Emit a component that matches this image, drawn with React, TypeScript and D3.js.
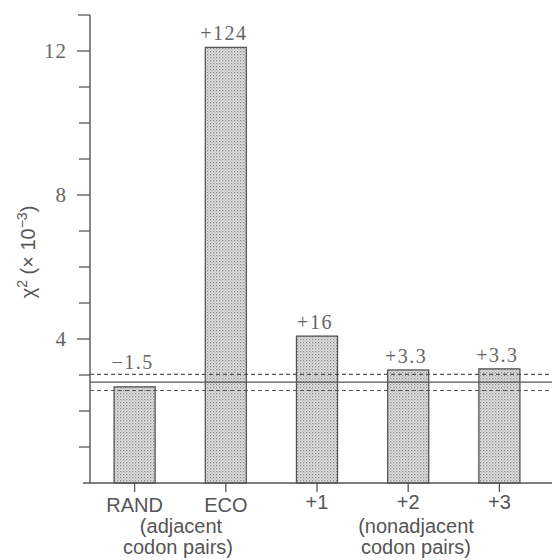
import React from 'react'
import * as d3 from 'd3'

const categories = ['RAND', 'ECO', '+1', '+2', '+3']
const values = [2.67, 12.1, 4.08, 3.14, 3.17]
const barLabels = ['\u22121.5', '+124', '+16', '+3.3', '+3.3']
const majorTicks = [4, 8, 12]
const minorTicks = [1, 2, 3, 5, 6, 7, 9, 10, 11]
const refMean = 2.8
const refBand = [2.57, 3.02]

const W = 552
const H = 560
const ink = '#555'
const serif = '"Liberation Serif", "DejaVu Serif", serif'
const sans = '"Liberation Sans", Arial, sans-serif'

export default function App() {
  const x = d3.scaleBand().domain(categories).range([89, 545]).paddingInner(0.55).paddingOuter(0.275)
  const y = d3.scaleLinear().domain([0, 13]).range([483, 15])
  const x0 = 90
  const xEnd = W

  return (
    <svg width={W} height={H} style={{ position: 'absolute', left: 0, top: 0, background: '#fff' }}>
      <defs>
        <pattern id="dots" width="3" height="3" patternUnits="userSpaceOnUse">
          <rect width="3" height="3" fill="#e2e2e2" />
          <rect x="0" y="0" width="1.3" height="1.3" fill="#8a8a8a" />
          <rect x="1.5" y="1.5" width="1.2" height="1.2" fill="#aaa" />
        </pattern>
      </defs>

      {/* bars */}
      {categories.map((c, i) => (
        <rect key={c} x={x(c)} y={y(values[i])} width={x.bandwidth()} height={y(0) - y(values[i])}
          fill="url(#dots)" stroke={ink} strokeWidth={1.3} />
      ))}

      {/* reference lines */}
      <line x1={x0} x2={xEnd} y1={y(refMean)} y2={y(refMean)} stroke={ink} strokeWidth={1.3} />
      {refBand.map(v => (
        <line key={v} x1={x0} x2={xEnd} y1={y(v)} y2={y(v)} stroke={ink} strokeWidth={1.2} strokeDasharray="4,3" />
      ))}

      {/* y axis */}
      <line x1={x0} x2={x0} y1={y(13)} y2={y(0)} stroke={ink} strokeWidth={1.4} />
      <line x1={78} x2={x0} y1={y(13)} y2={y(13)} stroke={ink} strokeWidth={1.3} />
      {majorTicks.map(t => (
        <g key={t}>
          <line x1={77} x2={x0} y1={y(t)} y2={y(t)} stroke={ink} strokeWidth={1.3} />
          <text x={67} y={y(t) + 7} textAnchor="end" fontFamily={serif} fontSize={21} letterSpacing={1} fill="#666">{t}</text>
        </g>
      ))}
      {minorTicks.map(t => (
        <line key={t} x1={79} x2={x0} y1={y(t)} y2={y(t)} stroke={ink} strokeWidth={1.3} />
      ))}

      {/* baseline */}
      <line x1={83} x2={xEnd} y1={y(0)} y2={y(0)} stroke={ink} strokeWidth={1.4} />

      {/* x ticks and labels */}
      {categories.map((c, i) => {
        const cx = (x(c) as number) + x.bandwidth() / 2
        const ly = Math.min(y(values[i]) - 7, y(refBand[1]) - 5)
        return (
          <g key={c}>
            <line x1={cx} x2={cx} y1={y(0)} y2={y(0) + 9} stroke={ink} strokeWidth={1.3} />
            <text x={cx} y={i < 2 ? 512 : 509} textAnchor="middle" fontFamily={sans} fontSize={20} fill={ink}>{c}</text>
            <text x={cx - 2} y={ly} textAnchor="middle" fontFamily={serif} fontSize={20} letterSpacing={1.5} fill="#666">{barLabels[i]}</text>
          </g>
        )
      })}

      <text x={181} y={533} textAnchor="middle" fontFamily={sans} fontSize={20} fill={ink}>(adjacent</text>
      <text x={178} y={554} textAnchor="middle" fontFamily={sans} fontSize={20} fill={ink}>codon pairs)</text>
      <text x={416} y={533} textAnchor="middle" fontFamily={sans} fontSize={20} fill={ink}>(nonadjacent</text>
      <text x={416} y={554} textAnchor="middle" fontFamily={sans} fontSize={20} fill={ink}>codon pairs)</text>

      {/* y title */}
      <text transform="translate(35,252) rotate(-90)" textAnchor="middle" fontFamily={sans} fontSize={20} fill={ink}>
        {'\u03c7'}<tspan dy={-8} fontSize={14}>2</tspan><tspan dy={8}> ({'\u00d7'} 10</tspan><tspan dy={-8} fontSize={14}>{'\u22123'}</tspan><tspan dy={8}>)</tspan>
      </text>
    </svg>
  )
}
